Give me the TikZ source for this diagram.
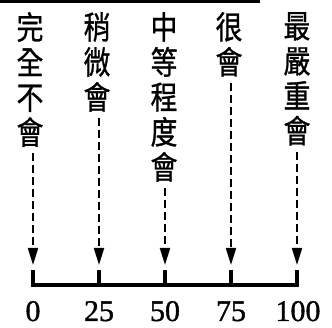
\documentclass[tikz,border=0pt]{standalone}
\usepackage{fontspec}
\usepackage{graphicx}
\setmainfont{Liberation Serif}
\newfontfamily\cjk[AutoFakeBold=1]{Noto Sans CJK TC}
\newfontfamily\numfont[AutoFakeBold=1.2]{Liberation Serif}
\usetikzlibrary{arrows.meta}
\tikzset{
  col/.style={inner sep=0pt, anchor=north, align=center, font=\cjk\bfseries\fontsize{32}{35}\selectfont},
  dashline/.style={line width=2pt, dash pattern=on 8pt off 4pt, -{Triangle[length=17pt,width=10pt]}, shorten <=6pt},
  tick/.style={line width=4pt},
  num/.style={inner sep=0pt, anchor=base, font=\numfont\bfseries\fontsize{30}{30}\selectfont}
}
\newcommand{\nar}[1]{\scalebox{0.84}[1]{#1}}
\begin{document}
\begin{tikzpicture}[x=1pt,y=-1pt]
\useasboundingbox (0,0) rectangle (332,328);
\draw[line width=3pt] (0,1.5) -- (260,1.5);
\node[col] (k1) at (30,12) {\nar{完}\\\nar{全}\\\nar{不}\\\nar{會}};
\node[col] (k2) at (97,12) {\nar{稍}\\\nar{微}\\\nar{會}};
\node[col] (k3) at (164,12) {\nar{中}\\\nar{等}\\\nar{程}\\\nar{度}\\\nar{會}};
\node[col] (k4) at (229,12) {\nar{很}\\\nar{會}};
\node[col] (k5) at (297,12) {\nar{最}\\\nar{嚴}\\\nar{重}\\\nar{會}};
\coordinate (a1) at (33,265);
\coordinate (a2) at (99,265);
\coordinate (a3) at (165,265);
\coordinate (a4) at (231,265);
\coordinate (a5) at (297,265);
\draw[dashline] (k1.south -| a1) -- (a1);
\draw[dashline] (k2.south -| a2) -- (a2);
\draw[dashline] (k3.south -| a3) -- (a3);
\draw[dashline] (k4.south -| a4) -- (a4);
\draw[dashline] (k5.south -| a5) -- (a5);
\draw[tick] (31,285) -- (299,285);
\foreach \x in {33,99,165,231,297} { \draw[tick] (\x,270) -- (\x,287); }
\node[num] (n1) at (33,321) {0};
\node[num] (n2) at (99,321) {25};
\node[num] (n3) at (165,321) {50};
\node[num] (n4) at (231,321) {75};
\node[num] (n5) at (298,321) {100};
\end{tikzpicture}
\end{document}
